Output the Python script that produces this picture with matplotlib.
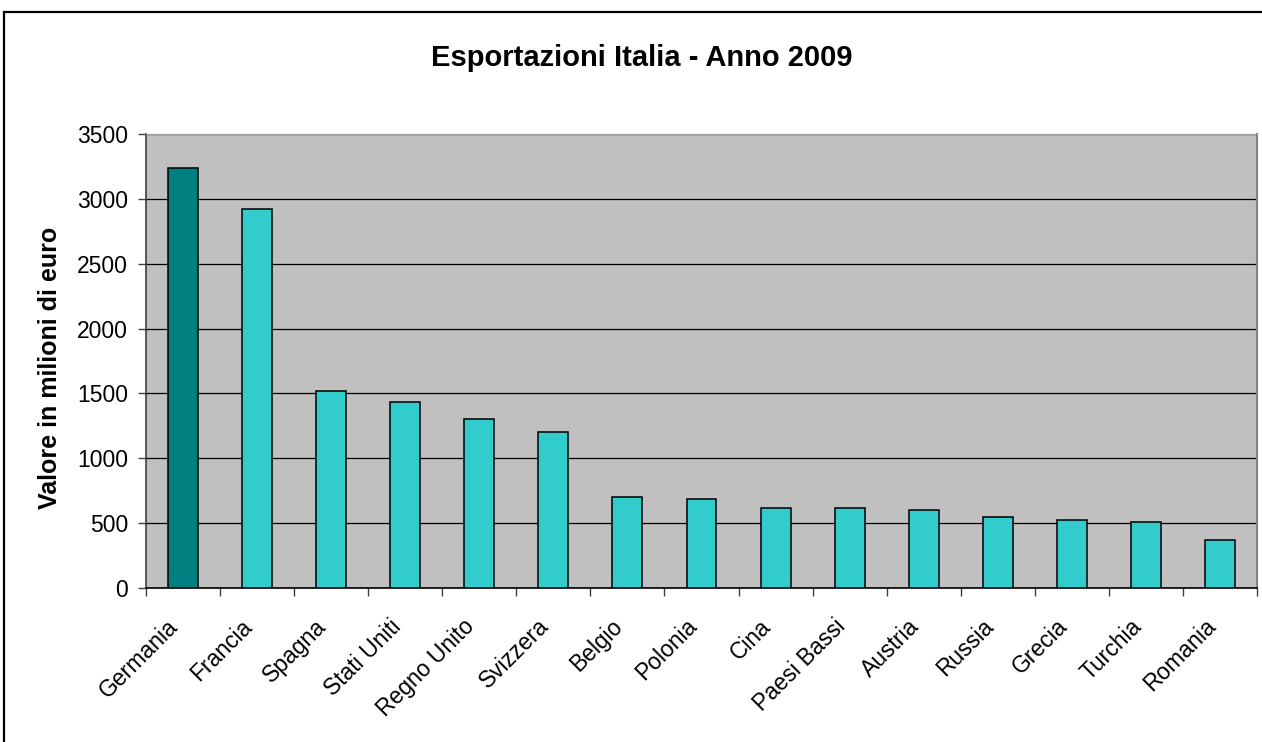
import matplotlib
matplotlib.use("Agg")
import matplotlib.pyplot as plt
from matplotlib.lines import Line2D

plt.rcParams['font.family'] = ['Liberation Sans', 'DejaVu Sans']

countries = ["Germania", "Francia", "Spagna", "Stati Uniti", "Regno Unito",
             "Svizzera", "Belgio", "Polonia", "Cina", "Paesi Bassi",
             "Austria", "Russia", "Grecia", "Turchia", "Romania"]
values = [3235, 2920, 1515, 1435, 1305, 1205, 700, 685, 615, 615,
          600, 545, 528, 505, 372]
yticks = [0, 500, 1000, 1500, 2000, 2500, 3000, 3500]
title = "Esportazioni Italia - Anno 2009"
ylabel = "Valore in milioni di euro"

W, H = 1262, 742
fig = plt.figure(figsize=(W / 100, H / 100), dpi=100)
fig.patch.set_facecolor("white")

# figure border (left and top visible)
fig.add_artist(Line2D([4 / W, 1.0], [1 - 12 / H, 1 - 12 / H], color="black", lw=1.6,
                      transform=fig.transFigure))
fig.add_artist(Line2D([4 / W, 4 / W], [0, 1 - 12 / H], color="black", lw=1.6,
                      transform=fig.transFigure))

left, right, top, bottom = 146, 1257, 134, 588
ax = fig.add_axes([left / W, 1 - bottom / H, (right - left) / W, (bottom - top) / H])
ax.set_facecolor("#C0C0C0")

x = list(range(len(countries)))
colors = ["#008080"] + ["#33CCCC"] * (len(countries) - 1)
ax.bar(x, values, width=0.405, color=colors, edgecolor="black", linewidth=1.1, zorder=3)

ax.set_xlim(-0.5, len(countries) - 0.5)
ax.set_ylim(0, 3500)

ax.set_yticks(yticks)
ax.set_yticklabels([str(v) for v in yticks], fontsize=16.5)
ax.tick_params(axis="y", direction="out", length=6, width=1, pad=7, color="#404040")
ax.yaxis.grid(True, color="black", linewidth=0.9, zorder=1)
ax.set_axisbelow(True)

# category boundary ticks (major), labels on minor ticks
ax.set_xticks([i - 0.5 for i in range(len(countries) + 1)])
ax.set_xticklabels([""] * (len(countries) + 1))
ax.tick_params(axis="x", which="major", direction="out", length=6, width=1, color="#404040")
ax.set_xticks(x, minor=True)
ax.set_xticklabels(countries, minor=True, rotation=45, ha="right",
                   rotation_mode="anchor", va="bottom", fontsize=16.5)
ax.tick_params(axis="x", which="minor", length=0, pad=31)

ax.spines["top"].set_color("#A0A0A0")
ax.spines["top"].set_linewidth(0.8)
ax.spines["right"].set_color("#808080")
ax.spines["right"].set_linewidth(1.5)
ax.spines["left"].set_color("#404040")
ax.spines["left"].set_linewidth(1.2)
ax.spines["bottom"].set_color("black")
ax.spines["bottom"].set_linewidth(1.2)

ax.set_ylabel(ylabel, fontsize=18, fontweight="bold")
ax.yaxis.set_label_coords(-(left - 62) / (right - left), (bottom - 368) / (bottom - top))

fig.text(642 / W, 1 - 66 / H, title, ha="center", va="baseline",
         fontsize=21, fontweight="bold")

fig.savefig("out.png", dpi=100)
